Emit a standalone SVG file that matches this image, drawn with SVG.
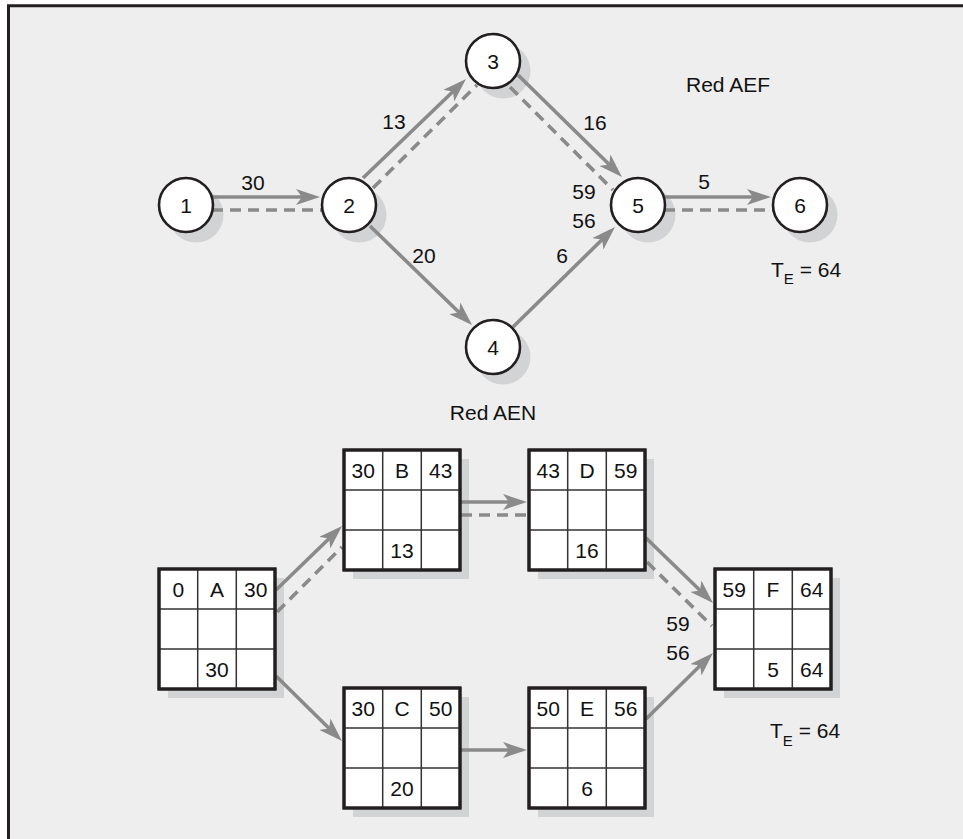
<svg xmlns="http://www.w3.org/2000/svg" xmlns:xlink="http://www.w3.org/1999/xlink" width="963" height="839" viewBox="0 0 963 839">
<style>
text{font-family:"Liberation Sans",Arial,Helvetica,sans-serif;font-size:21px;fill:#111}
.c{text-anchor:middle}
.sh{fill:#d2d3d5}
.nd{fill:#fff;stroke:#231f20;stroke-width:2.6}
.bx{fill:#fff;stroke:#231f20;stroke-width:3}
.gl{stroke:#333;stroke-width:1.5;fill:none}
.s{stroke:#8a8a8a;stroke-width:3.6;fill:none;marker-end:url(#ah)}
.d{stroke:#8a8a8a;stroke-width:3.6;fill:none;stroke-dasharray:11 7}
</style>
<defs>
<marker id="ah" markerUnits="userSpaceOnUse" markerWidth="24" markerHeight="16" viewBox="0 0 24 16" refX="10" refY="8" orient="auto">
<path d="M0,0 L24,8 L0,16 L6,8 Z" fill="#8a8a8a"/>
</marker>
<g id="grid">
<rect class="bx" x="0" y="0" width="116" height="120"/>
<path class="gl" d="M38.7,0V120M77.3,0V120M0,40H116M0,80H116"/>
<rect x="0" y="0" width="116" height="120" fill="none" stroke="#231f20" stroke-width="3"/>
</g>
</defs>
<rect x="0" y="0" width="963" height="839" fill="#fff"/>
<rect x="10" y="7" width="953" height="832" fill="#eeeeee"/>
<path d="M8.5,839V5.8H963" fill="none" stroke="#231f20" stroke-width="3"/>

<g id="shadows">
<circle class="sh" cx="196" cy="215" r="27.5"/>
<circle class="sh" cx="359" cy="215" r="27.5"/>
<circle class="sh" cx="503" cy="71" r="27.5"/>
<circle class="sh" cx="503" cy="357" r="27.5"/>
<circle class="sh" cx="648" cy="215" r="27.5"/>
<circle class="sh" cx="810" cy="215" r="27.5"/>
<rect class="sh" x="168" y="578" width="116" height="120"/>
<rect class="sh" x="353" y="459" width="116" height="120"/>
<rect class="sh" x="538" y="459" width="116" height="120"/>
<rect class="sh" x="724" y="578" width="116" height="120"/>
<rect class="sh" x="353" y="697" width="116" height="120"/>
<rect class="sh" x="538" y="697" width="116" height="120"/>
</g>

<g id="connectors">
<path class="s" d="M212,197 L306,197"/>
<path class="d" d="M212,210 L322,210"/>
<path class="s" d="M363,178 L455.9,88.7"/>
<path class="d" d="M373,188 L477,85"/>
<path class="s" d="M518,75 L612,167.2"/>
<path class="d" d="M510,87 L613,190"/>
<path class="s" d="M370,226 L462,315.3"/>
<path class="s" d="M513,327 L605,236.8"/>
<path class="s" d="M664,197 L757,197"/>
<path class="d" d="M664,210 L773,210"/>
<path class="s" d="M276,590 L332,535.7"/>
<path class="d" d="M277,612 L342,547"/>
<path class="s" d="M461,502 L513,502"/>
<path class="d" d="M461,515 L529,515"/>
<path class="s" d="M646,538 L703,593.2"/>
<path class="d" d="M647,562 L712,626"/>
<path class="s" d="M276,676 L332,731.2"/>
<path class="s" d="M461,750 L513,750"/>
<path class="s" d="M646,719 L703,662.8"/>
</g>

<g id="n1"><circle class="nd" cx="186" cy="205" r="27"/><text class="c" x="186" y="212.5">1</text></g>
<g id="n2"><circle class="nd" cx="349" cy="205" r="27"/><text class="c" x="349" y="212.5">2</text></g>
<g id="n3"><circle class="nd" cx="493" cy="61" r="27"/><text class="c" x="493" y="68.5">3</text></g>
<g id="n4"><circle class="nd" cx="493" cy="347" r="27"/><text class="c" x="493" y="354.5">4</text></g>
<g id="n5"><circle class="nd" cx="638" cy="205" r="27"/><text class="c" x="638" y="212.5">5</text></g>
<g id="n6"><circle class="nd" cx="800" cy="205" r="27"/><text class="c" x="800" y="212.5">6</text></g>

<g id="labels-top">
<text class="c" x="253" y="189.5">30</text>
<text class="c" x="394" y="128.5">13</text>
<text class="c" x="595" y="129.5">16</text>
<text class="c" x="704" y="188.5">5</text>
<text class="c" x="584" y="198.5">59</text>
<text class="c" x="584" y="227.5">56</text>
<text class="c" x="562" y="262.5">6</text>
<text class="c" x="424" y="262.5">20</text>
<text x="686" y="92">Red AEF</text>
<text x="771" y="277">T<tspan font-size="15" dy="7">E</tspan><tspan dy="-7"> = 64</tspan></text>
<text class="c" x="493" y="419.5">Red AEN</text>
</g>

<g id="bA" transform="translate(159,569)"><use xlink:href="#grid"/>
<text class="c" x="19.3" y="27.5">0</text><text class="c" x="58" y="27.5">A</text><text class="c" x="96.7" y="27.5">30</text>
<text class="c" x="58" y="107.5">30</text></g>
<g id="bB" transform="translate(344,450)"><use xlink:href="#grid"/>
<text class="c" x="19.3" y="27.5">30</text><text class="c" x="58" y="27.5">B</text><text class="c" x="96.7" y="27.5">43</text>
<text class="c" x="58" y="107.5">13</text></g>
<g id="bD" transform="translate(529,450)"><use xlink:href="#grid"/>
<text class="c" x="19.3" y="27.5">43</text><text class="c" x="58" y="27.5">D</text><text class="c" x="96.7" y="27.5">59</text>
<text class="c" x="58" y="107.5">16</text></g>
<g id="bF" transform="translate(715,569)"><use xlink:href="#grid"/>
<text class="c" x="19.3" y="27.5">59</text><text class="c" x="58" y="27.5">F</text><text class="c" x="96.7" y="27.5">64</text>
<text class="c" x="58" y="107.5">5</text><text class="c" x="96.7" y="107.5">64</text></g>
<g id="bC" transform="translate(344,688)"><use xlink:href="#grid"/>
<text class="c" x="19.3" y="27.5">30</text><text class="c" x="58" y="27.5">C</text><text class="c" x="96.7" y="27.5">50</text>
<text class="c" x="58" y="107.5">20</text></g>
<g id="bE" transform="translate(529,688)"><use xlink:href="#grid"/>
<text class="c" x="19.3" y="27.5">50</text><text class="c" x="58" y="27.5">E</text><text class="c" x="96.7" y="27.5">56</text>
<text class="c" x="58" y="107.5">6</text></g>

<g id="labels-bottom">
<text class="c" x="678" y="630.5">59</text>
<text class="c" x="678" y="659.5">56</text>
<text x="770" y="738">T<tspan font-size="15" dy="8">E</tspan><tspan dy="-8"> = 64</tspan></text>
</g>
</svg>
